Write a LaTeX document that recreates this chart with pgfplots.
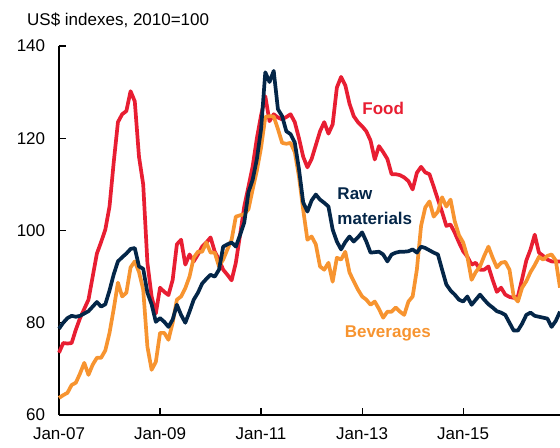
\documentclass[border=0pt]{standalone}
\usepackage{pgfplots}
\pgfplotsset{compat=1.18}
\usepackage{fontspec}
\setmainfont{Liberation Sans}
\definecolor{foodred}{RGB}{232,30,50}
\definecolor{rawnavy}{RGB}{4,38,72}
\definecolor{bevorange}{RGB}{247,148,48}
\begin{document}
\fontsize{17bp}{20bp}\selectfont
\begin{tikzpicture}
\path[use as bounding box] (-59bp,-33bp) rectangle (501bp,415bp);
\begin{axis}[
  scale only axis, width=501bp, height=369bp,
  xmin=0, xmax=119, ymin=60, ymax=140,
  axis lines*=left,
  axis line style={line width=1.3bp, black},
  xtick={0,24,48,72,96},
  xticklabels={Jan-07,Jan-09,Jan-11,Jan-13,Jan-15},
  ytick={60,80,100,120,140},
  tick align=inside,
  major tick length=7bp,
  tick style={line width=1.2bp, black},
  /pgf/number format/assume math mode=true,
  ticklabel style={font=\fontsize{17bp}{20bp}\selectfont},
  yticklabel style={xshift=-8bp},
  xticklabel style={yshift=-7bp},
  clip=false,
  every axis plot/.append style={line width=3.7bp, line join=round, no marks},
]
\addplot[foodred] coordinates {
(0,73.5)(1,75.6)(2,75.5)(3,75.6)(4,78.5)(5,81)(6,83)(7,85)(8,90)(9,95)(10,97.5)(11,100.2)(12,105.2)(13,114.8)(14,123.5)(15,125.2)(16,125.9)(17,130.2)(18,128)(19,116)(20,110)(21,93)(22,85.7)(23,82)(24,87.6)(25,86.7)(26,86)(27,89.3)(28,97)(29,98)(30,92.6)(31,94.8)(32,93.3)(33,94.8)(34,96.5)(35,97.4)(36,98.5)(37,95.4)(38,93.7)(39,91.5)(40,90.4)(41,89.2)(42,93)(43,99)(44,105.2)(45,109.5)(46,113.9)(47,120)(48,125)(49,129.1)(50,123.7)(51,125.2)(52,124.5)(53,124.1)(54,124.6)(55,125.2)(56,123.5)(57,120)(58,116)(59,113.7)(60,115.5)(61,118.5)(62,121.5)(63,123.5)(64,121)(65,123)(66,131)(67,133.3)(68,131.5)(69,127.5)(70,124.8)(71,123.5)(72,122.6)(73,121.5)(74,119.5)(75,115.4)(76,118.3)(77,117)(78,115.5)(79,112.2)(80,112.2)(81,112)(82,111.5)(83,110.7)(84,108.9)(85,112.5)(86,113.8)(87,112.6)(88,112.2)(89,109.5)(90,106.7)(91,104)(92,101)(93,101.3)(94,99.5)(95,97.4)(96,95.5)(97,94.3)(98,92.6)(99,93)(100,91.5)(101,91.5)(102,92.2)(103,89.3)(104,86.7)(105,87.6)(106,86.1)(107,85.6)(108,85.4)(109,85.7)(110,89.5)(111,93.5)(112,95.9)(113,99.1)(114,95.2)(115,94.5)(116,93.7)(117,93.3)(118,93.3)(119,93.3)
};
\addplot[bevorange] coordinates {
(0,63.7)(1,64.3)(2,64.8)(3,66.5)(4,67)(5,69)(6,71.3)(7,68.7)(8,70.9)(9,72.4)(10,72.4)(11,74)(12,77.8)(13,83)(14,88.7)(15,85.7)(16,86.5)(17,92)(18,93.3)(19,91)(20,87.2)(21,74.8)(22,69.8)(23,71.5)(24,77.8)(25,77.8)(26,76.3)(27,80)(28,85)(29,85.7)(30,87.5)(31,90)(32,94.1)(33,95.4)(34,95.4)(35,97.4)(36,95.2)(37,95.2)(38,92.2)(39,93.7)(40,95.9)(41,98)(42,103)(43,103.3)(44,103.5)(45,104.6)(46,108.9)(47,113)(48,118)(49,124.6)(50,124.8)(51,124.7)(52,122)(53,119)(54,118.8)(55,119)(56,117)(57,111.7)(58,104.5)(59,98)(60,98.7)(61,97)(62,92.2)(63,91.5)(64,93)(65,88.9)(66,94.1)(67,93.7)(68,95.4)(69,90.9)(70,89)(71,87.2)(72,85.7)(73,85)(74,83.9)(75,84.6)(76,83)(77,81.1)(78,82.4)(79,82.4)(80,83.3)(81,82.4)(82,81.7)(83,84.6)(84,85.7)(85,91.5)(86,101)(87,105)(88,106.3)(89,103)(90,104.1)(91,107.2)(92,105.2)(93,106.7)(94,102)(95,99)(96,97.4)(97,94.3)(98,89.3)(99,91)(100,92.2)(101,94.5)(102,96.5)(103,94.1)(104,92)(105,93)(106,93.2)(107,91.5)(108,85.7)(109,84.6)(110,87.6)(111,89)(112,91)(113,92.5)(114,94.3)(115,93.7)(116,94.5)(117,94.8)(118,93.5)(119,87.6)
};
\addplot[rawnavy] coordinates {
(0,78.7)(1,80)(2,81)(3,81.5)(4,81.3)(5,81.5)(6,82)(7,82.5)(8,83.5)(9,84.5)(10,83.5)(11,84)(12,87)(13,90.5)(14,93.3)(15,94.2)(16,95)(17,96)(18,96.2)(19,92.2)(20,91.7)(21,86.5)(22,84)(23,80.2)(24,81)(25,80.2)(26,79.1)(27,80.7)(28,83.9)(29,81.7)(30,80)(31,82.4)(32,85)(33,86.5)(34,88.5)(35,89.5)(36,90.4)(37,90)(38,91.5)(39,96.5)(40,97)(41,97.4)(42,96.5)(43,99)(44,101.7)(45,108.3)(46,111)(47,115.5)(48,122)(49,134.3)(50,132.2)(51,134.6)(52,126.3)(53,124.8)(54,121.5)(55,120.9)(56,119.1)(57,113.3)(58,106.1)(59,104.1)(60,106.5)(61,107.8)(62,106.7)(63,106)(64,105.2)(65,100.2)(66,97.6)(67,95.9)(68,97.5)(69,98.7)(70,97.6)(71,98.5)(72,99.6)(73,97.6)(74,95.2)(75,95.3)(76,95.4)(77,94.8)(78,93.3)(79,94.8)(80,95.2)(81,95.4)(82,95.4)(83,95.5)(84,95.9)(85,95.2)(86,96.5)(87,96.2)(88,95.7)(89,95.2)(90,94.8)(91,91.5)(92,88.3)(93,87)(94,86.1)(95,85)(96,84.6)(97,85.7)(98,83.9)(99,85)(100,86.1)(101,85)(102,84)(103,83.3)(104,82.5)(105,82.2)(106,81.7)(107,80)(108,78.3)(109,78.3)(110,79.8)(111,81.7)(112,82.2)(113,81.5)(114,81.3)(115,81.1)(116,80.9)(117,79.1)(118,80.4)(119,82.4)
};
\node[foodred, font=\bfseries\fontsize{17bp}{20bp}\selectfont, inner sep=0pt] at (axis cs:77,126.5) {Food};
\node[rawnavy, font=\bfseries\fontsize{17bp}{25bp}\selectfont, inner sep=0pt, anchor=west, align=left] at (axis cs:66.1,105.2) {Raw\\materials};
\node[bevorange, font=\bfseries\fontsize{17bp}{20bp}\selectfont, inner sep=0pt] at (axis cs:78.1,77.6) {Beverages};
\end{axis}
\node[anchor=west, inner sep=0pt, font=\fontsize{17bp}{20bp}\selectfont] at (-32bp,395bp) {US\$ indexes, 2010=100};
\end{tikzpicture}
\end{document}
